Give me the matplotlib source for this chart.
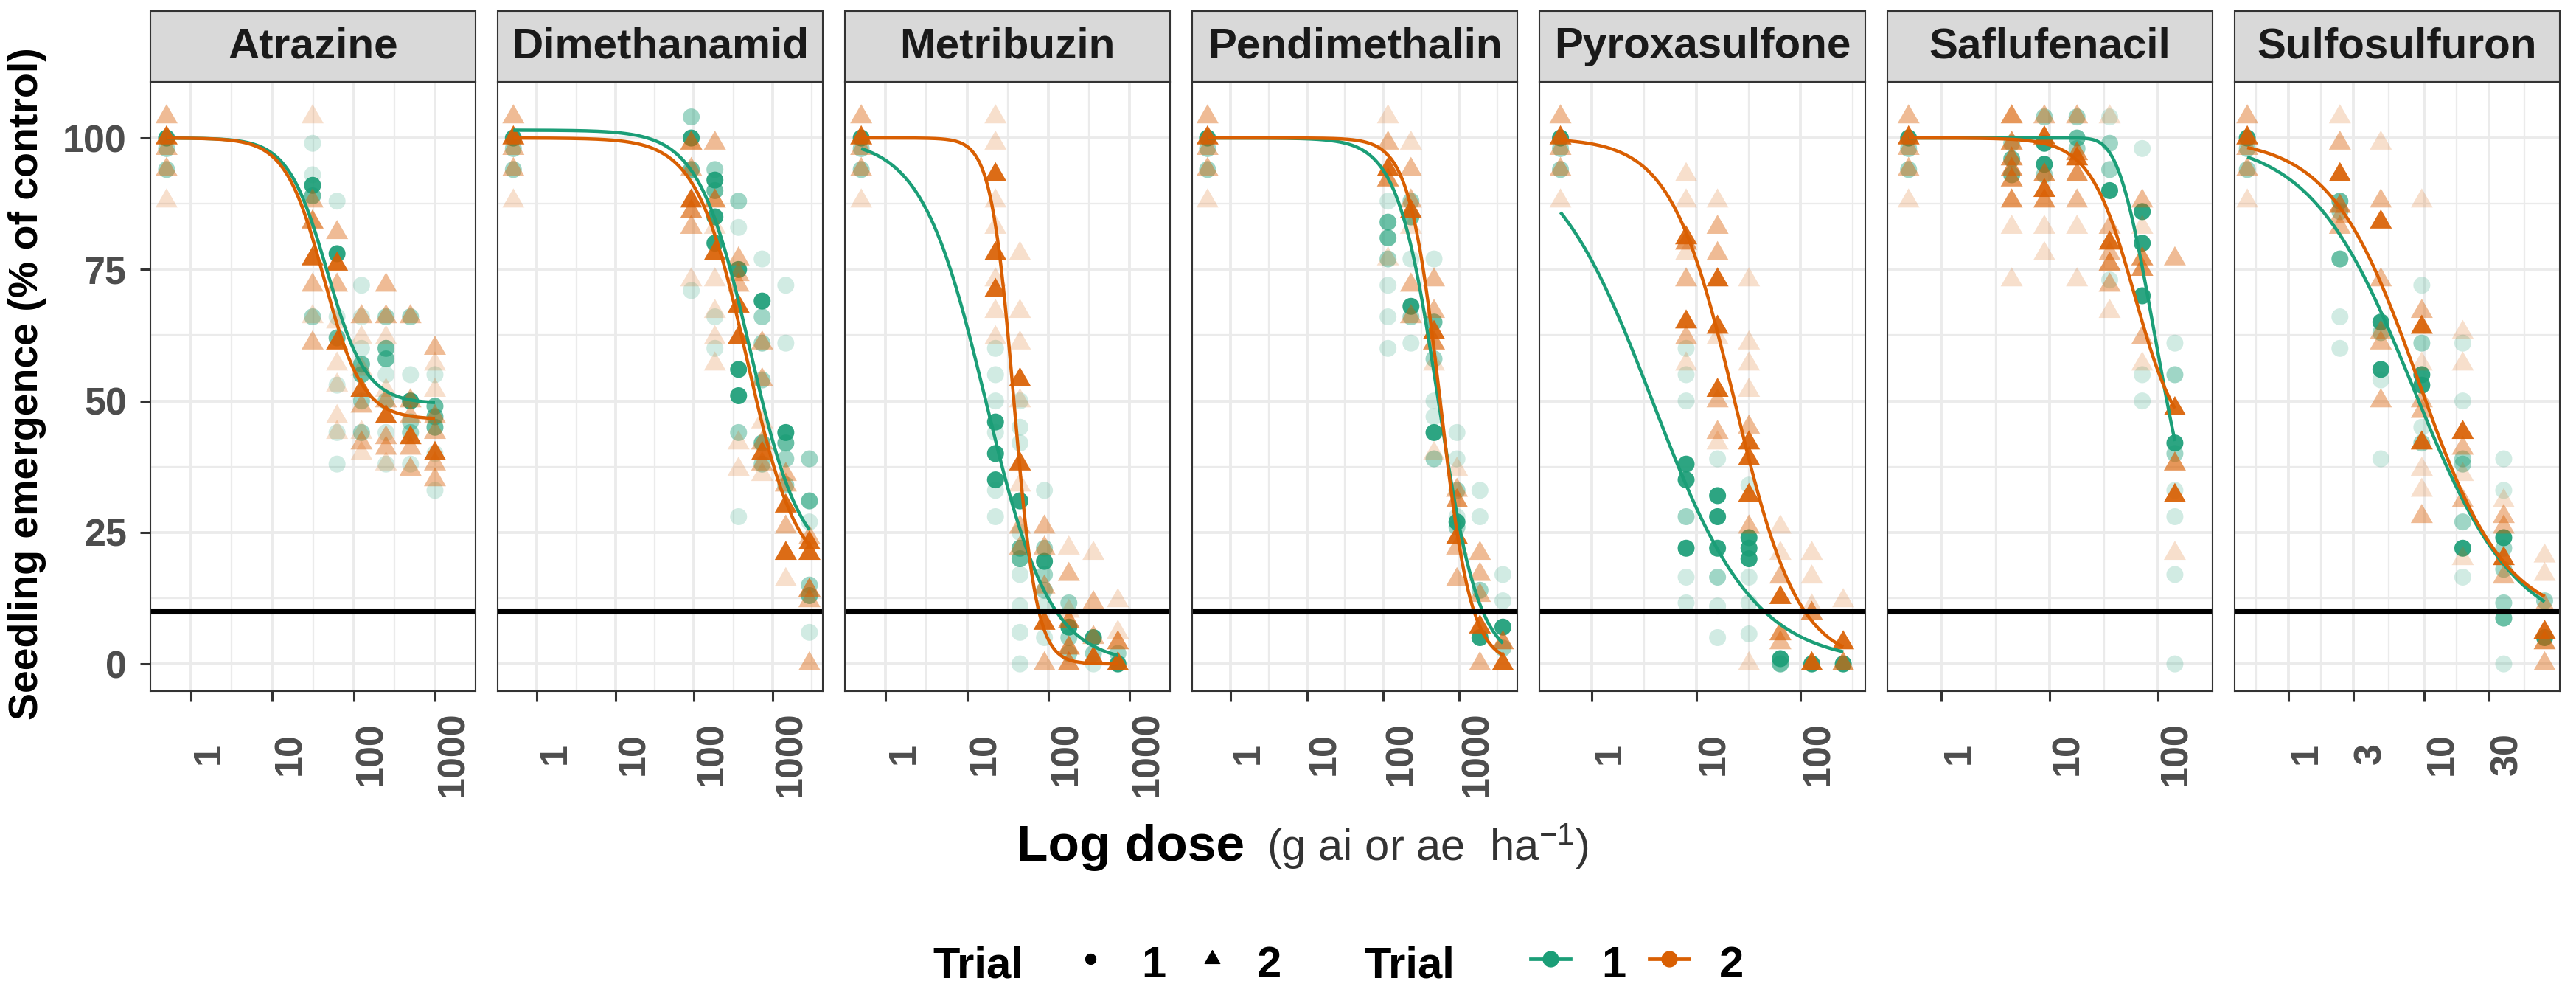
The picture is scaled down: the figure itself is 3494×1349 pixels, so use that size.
import numpy as np
import matplotlib.pyplot as plt
from matplotlib.patches import Rectangle
from matplotlib.lines import Line2D
from matplotlib.path import Path
from matplotlib.colors import to_rgba

plt.rcParams['font.family'] = ['Liberation Sans', 'DejaVu Sans']
plt.rcParams['mathtext.default'] = 'regular'

# ---------------- data ----------------
HERBICIDES = ["Atrazine", "Dimethanamid", "Metribuzin", "Pendimethalin",
              "Pyroxasulfone", "Saflufenacil", "Sulfosulfuron"]

# untreated control, plotted at a nominal dose of 0.5
CONTROL_DOSE = 0.5
CONTROL_T1 = [(100, 4), (98, 2), (94, 2)]
CONTROL_T2 = [(104, 2), (100, 4), (98, 2), (94, 2), (88, 1)]

# each point: (emergence %, overlap level 1 = single faint point ... 4 = many stacked)
ATRAZINE_DOSES = [31.25, 62.5, 125, 250, 500, 1000]
ATRAZINE_T1 = [
    [(99, 1), (93, 1), (91, 4), (89, 3), (66, 2)],
    [(88, 1), (78, 4), (66, 1), (62, 3), (53, 1), (44, 1), (38, 1)],
    [(72, 1), (66, 1), (60, 1), (57, 3), (55, 3), (50, 2), (44, 2)],
    [(66, 2), (60, 3), (58, 3), (55, 1), (50, 2), (44, 1), (38, 1)],
    [(66, 2), (55, 1), (50, 4), (46, 2), (44, 2), (38, 1)],
    [(55, 1), (49, 3), (47, 3), (45, 3), (40, 1), (33, 1)],
]
ATRAZINE_T2 = [
    [(104, 1), (88, 2), (84, 3), (77, 4), (72, 2), (66, 1), (61, 2)],
    [(82, 2), (76, 4), (72, 2), (65, 1), (61, 4), (57, 1), (53, 1), (47, 1), (44, 1)],
    [(66, 2), (62, 1), (56, 1), (52, 4), (49, 2), (44, 1), (42, 2), (40, 1)],
    [(72, 2), (66, 2), (62, 1), (52, 1), (50, 2), (47, 4), (43, 2), (41, 2), (38, 1)],
    [(66, 2), (50, 2), (47, 2), (43, 4), (41, 2), (37, 2)],
    [(60, 2), (57, 1), (52, 1), (47, 2), (44, 2), (40, 4), (38, 2), (35, 2)],
]

DIMETHANAMID_DOSES = [92, 184, 368, 735, 1470, 2940]
DIMETHANAMID_T1 = [
    [(104, 2), (100, 4), (94, 3), (71, 1)],
    [(94, 2), (92, 4), (90, 3), (85, 4), (80, 4), (66, 1), (60, 1)],
    [(88, 2), (83, 1), (75, 4), (56, 4), (51, 4), (44, 2), (28, 1)],
    [(77, 1), (69, 4), (66, 2), (61, 2), (54, 2), (42, 3), (38, 2)],
    [(72, 1), (61, 1), (44, 4), (42, 3), (39, 2), (34, 2)],
    [(39, 2), (31, 3), (27, 1), (15, 2), (13, 3), (6, 1)],
]
DIMETHANAMID_T2 = [
    [(99, 3), (94, 2), (88, 4), (86, 3), (83, 2), (73, 1)],
    [(99, 2), (88, 3), (83, 1), (78, 4), (73, 1), (67, 1), (62, 1), (57, 1)],
    [(77, 2), (74, 2), (72, 2), (68, 4), (62, 4), (42, 1), (37, 1)],
    [(61, 2), (54, 2), (46, 1), (42, 2), (40, 4), (38, 2), (36, 1)],
    [(36, 2), (34, 2), (30, 4), (26, 2), (21, 4), (16, 1)],
    [(24, 2), (23, 4), (21, 4), (14, 3), (12, 2), (0, 2)],
]

METRIBUZIN_DOSES = [22.4, 44.8, 89.6, 179, 359, 718]
METRIBUZIN_T1 = [
    [(60, 1), (55, 1), (50, 1), (46, 4), (44, 1), (40, 4), (35, 4), (33, 1), (28, 1)],
    [(50, 1), (45, 1), (42, 1), (31, 4), (25, 1), (22, 3), (20, 3), (17, 1), (11, 1), (6, 1), (0, 1)],
    [(33, 1), (22, 2), (19.5, 4), (17, 2), (14, 2), (11, 1), (5, 1)],
    [(11.6, 2), (7, 4), (5, 2), (2, 2)],
    [(5, 4), (2, 2), (0, 1)],
    [(2, 2), (0, 4)],
]
METRIBUZIN_T2 = [
    [(104, 1), (99, 1), (93, 4), (88, 1), (83, 1), (78, 4), (73, 1), (71, 4), (67, 1), (62, 1)],
    [(78, 1), (67, 1), (61, 1), (54, 4), (50, 1), (38, 4), (34, 1), (26, 2), (22, 2)],
    [(26, 2), (22, 2), (14.6, 2), (7.7, 4), (0, 2)],
    [(22, 1), (17, 2), (10, 1), (8, 3), (3, 3), (0, 3)],
    [(21, 1), (11.6, 2), (5, 2), (1, 4)],
    [(12, 1), (6, 1), (4, 3), (0, 4)],
]

PENDIMETHALIN_DOSES = [116, 232, 465, 930, 1860, 3720]
PENDIMETHALIN_T1 = [
    [(88, 1), (84, 3), (81, 3), (77, 2), (72, 1), (66, 1), (60, 1)],
    [(88, 2), (85, 3), (77, 1), (68, 4), (66, 2), (61, 1)],
    [(77, 1), (65, 3), (58, 2), (50, 1), (47, 1), (44, 4), (39, 2)],
    [(44, 1), (39, 1), (33, 2), (28, 1), (27, 4), (26, 2)],
    [(33, 1), (28, 1), (14, 2), (5, 4)],
    [(17, 1), (12, 1), (7, 4), (3, 2)],
]
PENDIMETHALIN_T2 = [
    [(104, 1), (99, 2), (94, 4), (92, 3), (77, 1)],
    [(99, 1), (94, 2), (88, 2), (86, 4), (83, 1), (72, 2), (66, 2)],
    [(73, 2), (67, 2), (63, 4), (61, 3), (57, 1), (40, 1)],
    [(37, 1), (33, 2), (31, 3), (24, 4), (22, 2), (16, 2)],
    [(21, 2), (17, 2), (13, 2), (7, 4), (0, 2)],
    [(4, 3), (0, 4)],
]

PYROXASULFONE_DOSES = [8, 16, 32, 64, 128, 256]
PYROXASULFONE_T1 = [
    [(60, 1), (55, 1), (50, 1), (38, 4), (35, 4), (28, 2), (22, 4), (16.5, 1), (11.6, 1)],
    [(39, 1), (32, 4), (28, 4), (22, 4), (16.5, 2), (11, 1), (5, 1)],
    [(34, 1), (24, 4), (22, 4), (20, 4), (16.5, 1), (11.6, 1), (5.7, 1)],
    [(1, 4), (0, 3)],
    [(0, 4)],
    [(0, 4)],
]
PYROXASULFONE_T2 = [
    [(93, 1), (88, 1), (81, 4), (80, 3), (78, 1), (73, 2), (65, 4), (62, 2), (57, 1)],
    [(88, 1), (83, 2), (78, 2), (73, 4), (64, 4), (62, 1), (52, 4), (50, 2), (44, 2), (42, 1)],
    [(73, 1), (61, 1), (57, 1), (52, 1), (45, 2), (42, 4), (39, 4), (32, 4), (26, 2), (0, 1)],
    [(26, 1), (21, 1), (16.5, 2), (12.6, 4), (5.7, 3), (4, 2)],
    [(21, 1), (16.5, 1), (11, 1), (9.6, 3), (0, 4)],
    [(12, 1), (4, 4), (0, 3)],
]

SAFLUFENACIL_DOSES = [4.47, 8.94, 17.9, 35.8, 71.5, 143]
SAFLUFENACIL_T1 = [
    [(99, 2), (96, 3), (93, 3)],
    [(104, 2), (99, 4), (95, 4), (93, 2)],
    [(104, 2), (100, 3), (98, 2)],
    [(104, 1), (99, 2), (94, 2), (90, 4), (73, 1)],
    [(98, 1), (86, 4), (80, 4), (70, 4), (55, 1), (50, 1)],
    [(61, 1), (55, 2), (42, 4), (40, 2), (33, 1), (28, 1), (17, 1), (0, 1)],
]
SAFLUFENACIL_T2 = [
    [(104, 3), (99, 3), (96, 3), (94, 3), (92, 3), (88, 3), (83, 1), (73, 1)],
    [(104, 2), (100, 4), (93, 3), (90, 4), (88, 3), (83, 1), (78, 1)],
    [(104, 2), (97, 3), (96, 4), (93, 3), (88, 2), (83, 1), (73, 1)],
    [(104, 1), (83, 2), (80, 4), (78, 2), (76, 3), (72, 2), (67, 1)],
    [(88, 2), (83, 1), (77, 3), (75, 3), (62, 2), (57, 1)],
    [(77, 2), (48.5, 4), (38, 3), (32, 4), (21, 1)],
]

SULFOSULFURON_DOSES = [2.4, 4.8, 9.6, 19.2, 38.4, 76.8]
SULFOSULFURON_T1 = [
    [(88, 3), (86, 2), (77, 3), (66, 1), (60, 1)],
    [(65, 4), (63, 2), (56, 4), (54, 1), (39, 1)],
    [(72, 1), (61, 2), (55, 4), (53, 4), (45, 1), (42, 2)],
    [(61, 1), (50, 1), (39, 2), (38, 2), (27, 2), (22, 4), (16.5, 1)],
    [(39, 1), (33, 1), (24, 4), (22, 2), (18, 2), (11.6, 2), (8.7, 3), (0, 1)],
    [(12, 2), (5, 4)],
]
SULFOSULFURON_T2 = [
    [(104, 1), (99, 2), (93, 4), (87, 3), (85, 2), (83, 2)],
    [(99, 1), (88, 2), (84, 4), (73, 2), (63, 2), (61, 2), (50, 2)],
    [(88, 1), (67, 2), (64, 4), (57, 1), (50, 2), (48, 2), (42, 4), (37, 1), (33, 1), (28, 2)],
    [(63, 1), (57, 1), (44, 4), (41, 2), (36, 1), (31, 2), (20, 1)],
    [(31, 1), (28, 2), (26, 2), (20, 4), (16.5, 2)],
    [(20.5, 1), (17, 1), (11, 2), (6, 4), (4, 3), (0, 2)],
]

# fitted dose-response curves: (model, b, c, d, e) for trial 1 and trial 2
ATRAZINE_FIT = [("LL", 1.8, 49.5, 100, 47), ("LL", 1.82, 46.5, 100, 43.2)]
DIMETHANAMID_FIT = [("LL", 1.33, 18, 101.5, 515), ("LL", 1.35, 16, 100, 470)]
METRIBUZIN_FIT = [("LL", 1.1, 0, 100, 17), ("LL", 3.1, 0, 100, 37.7)]
PENDIMETHALIN_FIT = [("LL", 1.64, 0, 100, 530), ("LL", 2.15, 0, 100, 560)]
PYROXASULFONE_FIT = [("LL", 0.89, 0, 100, 3.8), ("LL", 1.42, 0, 100, 23.3)]
SAFLUFENACIL_FIT = [("W2", -1.35, 0, 100, 92), ("LL", 2.1, 40, 100, 61)]
SULFOSULFURON_FIT = [("LL", 1.15, 5, 100, 8.3), ("LL", 1.35, 8, 100, 9)]

X_BREAKS = [[1, 10, 100, 1000]] * 4 + [[1, 10, 100]] * 2 + [[1, 3, 10, 30]]
X_BREAK_LABELS = [[str(b) for b in br] for br in X_BREAKS]
THRESHOLD = 10

# ---------------- layout / style ----------------
W, H = 3494, 1349
LEFT0, PANEL_W, GAP = 204, 441.1, 30
TOP, BOTTOM, STRIP_TOP = 110.8, 936.5, 15.4
LOG_LIMITS = [(-0.468, 3.146), (-0.50, 3.64), (-0.45, 3.013), (-0.494, 3.763),
              (-0.432, 2.616), (-0.418, 2.279), (-0.396, 1.995)]
TEAL, ORANGE = "#1B9E77", "#D95F02"
LEVEL_ALPHA = {1: 0.2, 2: 0.42, 3: 0.65, 4: 0.92}
TRI = Path([(0, 1), (-0.866, -0.5), (0.866, -0.5), (0, 1)],
           [Path.MOVETO, Path.LINETO, Path.LINETO, Path.CLOSEPOLY])
TICK_GREY = "#4D4D4D"
PX = 0.72  # points per pixel at dpi 100

panels = [
    (ATRAZINE_DOSES, ATRAZINE_T1, ATRAZINE_T2, ATRAZINE_FIT),
    (DIMETHANAMID_DOSES, DIMETHANAMID_T1, DIMETHANAMID_T2, DIMETHANAMID_FIT),
    (METRIBUZIN_DOSES, METRIBUZIN_T1, METRIBUZIN_T2, METRIBUZIN_FIT),
    (PENDIMETHALIN_DOSES, PENDIMETHALIN_T1, PENDIMETHALIN_T2, PENDIMETHALIN_FIT),
    (PYROXASULFONE_DOSES, PYROXASULFONE_T1, PYROXASULFONE_T2, PYROXASULFONE_FIT),
    (SAFLUFENACIL_DOSES, SAFLUFENACIL_T1, SAFLUFENACIL_T2, SAFLUFENACIL_FIT),
    (SULFOSULFURON_DOSES, SULFOSULFURON_T1, SULFOSULFURON_T2, SULFOSULFURON_FIT),
]


def dose_response(x, model, b, c, d, e):
    z = np.exp(b * (np.log(x) - np.log(e)))
    if model == "LL":
        return c + (d - c) / (1 + z)
    return c + (d - c) * (1 - np.exp(-z))


def flatten(doses, groups, control):
    xs, ys, lv = [], [], []
    for v, l in control:
        xs.append(CONTROL_DOSE); ys.append(v); lv.append(l)
    for dose, grp in zip(doses, groups):
        for v, l in grp:
            xs.append(dose); ys.append(v); lv.append(l)
    return xs, ys, lv


def minor_breaks(br):
    lb = np.log10(br)
    lb = np.concatenate([[lb[0] - (lb[1] - lb[0])], lb, [lb[-1] + (lb[-1] - lb[-2])]])
    if br == [1, 3, 10, 30]:
        lb[-1] = 2.0
    return 10 ** ((lb[:-1] + lb[1:]) / 2)


fig = plt.figure(figsize=(W / 100, H / 100), dpi=100)
for i, (name, (doses, t1, t2, fits)) in enumerate(zip(HERBICIDES, panels)):
    x0 = LEFT0 + i * (PANEL_W + GAP)
    ax = fig.add_axes([x0 / W, 1 - BOTTOM / H, PANEL_W / W, (BOTTOM - TOP) / H])
    ax.set_xscale("log")
    lo, hi = LOG_LIMITS[i]
    ax.set_xlim(10 ** lo, 10 ** hi)
    ax.set_ylim(-5.1, 110.7)
    ax.set_axisbelow(True)

    # points: trial 1 circles, trial 2 triangles
    for (grp, col, marker, size) in [(t1, TEAL, "o", 274), (t2, ORANGE, TRI, 621)]:
        ctrl = CONTROL_T1 if grp is t1 else CONTROL_T2
        xs, ys, lv = flatten(doses, grp, ctrl)
        cols = [to_rgba(col, LEVEL_ALPHA[l]) for l in lv]
        ax.scatter(xs, ys, s=size, c=cols, marker=marker, edgecolors="none",
                   zorder=2)

    # fitted curves
    xx = np.geomspace(CONTROL_DOSE, doses[-1], 400)
    for fit, col in zip(fits, [TEAL, ORANGE]):
        ax.plot(xx, dose_response(xx, *fit), color=col, lw=3.2, zorder=3,
                solid_capstyle="butt")
    ax.axhline(THRESHOLD, color="black", lw=5.8, zorder=4)

    # axes, grid
    br = X_BREAKS[i]
    ax.set_xticks(br, X_BREAK_LABELS[i])
    ax.set_xticks(minor_breaks(br), minor=True)
    ax.set_yticks([0, 25, 50, 75, 100])
    ax.set_yticks([12.5, 37.5, 62.5, 87.5], minor=True)
    ax.grid(which="major", color="#EBEBEB", lw=2.8)
    ax.grid(which="minor", color="#EBEBEB", lw=1.6)
    ax.tick_params(which="minor", length=0)
    ax.tick_params(axis="x", which="major", length=14 * PX, width=2.2, color="#333333",
                   pad=71.5 * PX, labelsize=37.5, labelcolor=TICK_GREY)
    for t in ax.get_xticklabels():
        t.set(rotation=90, ha="left", va="center", fontweight="bold")
    if i == 0:
        ax.tick_params(axis="y", which="major", length=14 * PX, width=2.2,
                       color="#333333", pad=18 * PX, labelsize=37.5,
                       labelcolor=TICK_GREY)
        ax.set_yticklabels(["0", "25", "50", "75", "100"], fontweight="bold")
    else:
        ax.tick_params(axis="y", which="both", length=0, labelleft=False)
    for sp in ax.spines.values():
        sp.set_color("#333333")
        sp.set_linewidth(1.5)
        sp.set_zorder(5)

    # facet strip
    sh = (TOP - STRIP_TOP) / (BOTTOM - TOP)
    ax.add_patch(Rectangle((0, 1), 1, sh, transform=ax.transAxes, clip_on=False,
                           facecolor="#D9D9D9", edgecolor="#333333", lw=1.5))
    ax.text(0.5, 1 + sh / 2, name, transform=ax.transAxes, ha="center",
            va="center", fontsize=42, fontweight="bold", color="#1A1A1A")

# axis titles
fig.text(37 / W, 1 - 520 / H, "Seedling emergence (% of control)", rotation=90,
         ha="center", va="center", fontsize=40, fontweight="bold")
fig.text(1379 / W, 1 - 1167 / H, "Log dose", ha="left", va="baseline",
         fontsize=50, fontweight="bold")
fig.text(1718 / W, 1 - 1167 / H, r"(g ai or ae  $\mathregular{ha^{-1}}$)",
         ha="left", va="baseline", fontsize=43, color="#333333")

# legends
ly = 1 - 1325 / H
mk = 1 - 1300 / H
for x, s in [(1265, "Trial"), (1548, "1"), (1705, "2"), (1850, "Trial"),
             (2172, "1"), (2332, "2")]:
    fig.text(x / W, ly, s, ha="left", va="baseline", fontsize=43, fontweight="bold")
fig.add_artist(Line2D([1479 / W], [mk], marker="o", ms=10, color="black",
                      ls="none", transform=fig.transFigure))
fig.add_artist(Line2D([1644 / W], [mk], marker=TRI, ms=17, color="black",
                      ls="none", transform=fig.transFigure))
for cx, col in [(2103, TEAL), (2264, ORANGE)]:
    fig.add_artist(Line2D([(cx - 27) / W, (cx + 27) / W], [mk, mk], color=col,
                          lw=3.4, transform=fig.transFigure))
    fig.add_artist(Line2D([cx / W], [mk], marker="o", ms=15, color=col,
                          ls="none", transform=fig.transFigure))

fig.savefig("out.png", dpi=100)
